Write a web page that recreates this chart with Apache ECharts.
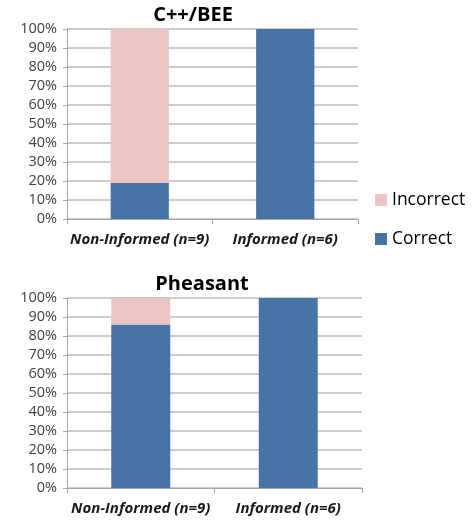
<!DOCTYPE html>
<html>
<head>
<meta charset="utf-8">
<script src="https://cdn.jsdelivr.net/npm/echarts@6/dist/echarts.min.js"></script>
<style>
  html, body { margin: 0; padding: 0; background: #fff; }
  #chart { width: 476px; height: 522px; }
</style>
</head>
<body>
<div id="chart"></div>
<script>
const categories = ['Non-Informed (n=9)', 'Informed (n=6)']
const titles = ['C++/BEE', 'Pheasant']
// 百分比，每组 correct + incorrect = 100
const cppCorrect = [19, 100]
const cppIncorrect = [81, 0]
const pheasantCorrect = [86, 100]
const pheasantIncorrect = [14, 0]

const blue = '#4674a5'
const pink = '#ecc4c4'
const font = '"Open Sans", Lato, sans-serif'

const chart = echarts.init(document.getElementById('chart'))

const grids = [
  { left: 67, top: 29, width: 291, height: 190 },
  { left: 67, top: 298, width: 295, height: 190 },
]

const makeX = (i) => ({
  type: 'category',
  gridIndex: i,
  data: categories,
  axisLine: { lineStyle: { color: '#a6a6a6', width: 1 } },
  axisTick: { show: true, length: 5, lineStyle: { color: '#a6a6a6' } },
  axisLabel: {
    interval: 0,
    color: '#1a1a1a',
    fontFamily: font,
    fontSize: 15,
    fontStyle: 'italic',
    fontWeight: 'bold',
    margin: 13,
  },
})

const makeY = (i) => ({
  type: 'value',
  gridIndex: i,
  min: 0,
  max: 100,
  interval: 10,
  axisLine: { show: true, lineStyle: { color: '#a6a6a6', width: 1 } },
  axisTick: { show: true, length: 4, lineStyle: { color: '#a6a6a6' } },
  splitLine: { lineStyle: { color: '#bcbcbc', width: 1.5 } },
  axisLabel: {
    color: '#404040',
    fontFamily: font,
    fontSize: 14.5,
    margin: 10,
    formatter: '{value}%',
  },
})

const bar = (name, data, i, color) => ({
  name,
  type: 'bar',
  stack: 'g' + i,
  xAxisIndex: i,
  yAxisIndex: i,
  barWidth: '40%',
  itemStyle: { color },
  data,
})

chart.setOption({
  animation: false,
  title: [
    {
      text: titles[0], left: 188, top: 0, textAlign: 'center',
      textStyle: { fontFamily: font, fontSize: 20, fontWeight: 'bold', color: '#000' },
    },
    {
      text: titles[1], left: 197, top: 269, textAlign: 'center',
      textStyle: { fontFamily: font, fontSize: 20, fontWeight: 'bold', color: '#000' },
    },
  ],
  legend: {
    orient: 'vertical',
    left: 370,
    top: 186,
    itemGap: 21,
    itemWidth: 12,
    itemHeight: 12,
    icon: 'rect',
    data: ['Incorrect', 'Correct'],
    textStyle: { fontFamily: font, fontSize: 17.5, color: '#000' },
  },
  grid: grids,
  xAxis: [makeX(0), makeX(1)],
  yAxis: [makeY(0), makeY(1)],
  series: [
    bar('Correct', cppCorrect, 0, blue),
    bar('Incorrect', cppIncorrect, 0, pink),
    bar('Correct', pheasantCorrect, 1, blue),
    bar('Incorrect', pheasantIncorrect, 1, pink),
  ],
})
</script>
</body>
</html>
